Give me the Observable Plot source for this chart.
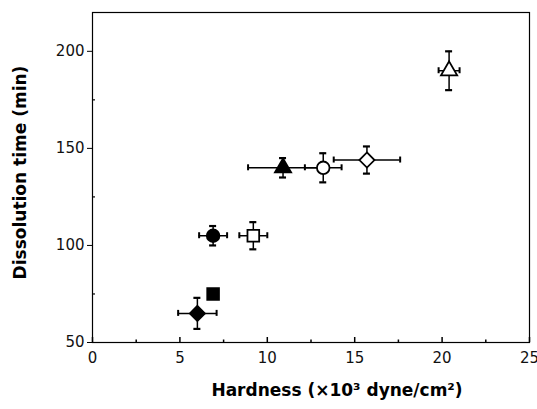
<!DOCTYPE html>
<html><head><meta charset="utf-8">
<script src="https://cdn.jsdelivr.net/npm/d3@7"></script>
<script src="https://cdn.jsdelivr.net/npm/@observablehq/plot@0.6"></script>
<style>body{margin:0;background:#fff}</style>
</head><body><div id="chart"></div>
<script>
// ---- data ----
const symbols     = ["diamond2", "square", "circle", "square", "triangle", "circle", "diamond2", "triangle"];
const filled      = [true, true, true, false, true, false, false, false];
const hardness    = [6.0, 6.9, 6.9, 9.2, 10.9, 13.2, 15.7, 20.4];
const hardnessErr = [1.1, 0.0, 0.8, 0.8, 2.0, 1.05, 1.9, 0.6];
const time        = [65, 75, 105, 105, 140, 140, 144, 190];
const timeErr     = [8, 0, 5, 7, 5, 7.5, 7, 10];
const xMajor = [0, 5, 10, 15, 20, 25];
const xMinor = [2.5, 7.5, 12.5, 17.5, 22.5];
const yMajor = [50, 100, 150, 200];
const yMinor = [75, 125, 175];
const xLabel = "Hardness (\u00d710\u00b3 dyne/cm\u00b2)";
const yLabel = "Dissolution time (min)";

const W = 537, H = 409, mL = 92, mR = 8, mT = 12, mB = 67;
const xDomain = [0, 25], yDomain = [50, 220];
const xPx = (xDomain[1] - xDomain[0]) / (W - mL - mR);
const yPx = (yDomain[1] - yDomain[0]) / (H - mT - mB);

const rows = hardness.map((h, i) => ({
  x: h, y: time[i], xe: hardnessErr[i], ye: timeErr[i],
  sym: symbols[i], fill: filled[i] ? "black" : "white"
}));
const xCaps = rows.filter(d => d.xe > 0).flatMap(d => [{x: d.x - d.xe, y: d.y}, {x: d.x + d.xe, y: d.y}]);
const yCaps = rows.filter(d => d.ye > 0).flatMap(d => [{x: d.x, y: d.y - d.ye}, {x: d.x, y: d.y + d.ye}]);
const radius = {diamond2: 6.8, square: 6.6, circle: 6.3, triangle: 6};
const dots = Object.keys(radius).map(s =>
  Plot.dot(rows.filter(d => d.sym === s), {x: "x", y: "y", symbol: () => s, r: radius[s], fill: "fill", stroke: "black", strokeWidth: 1.8})
);

const font = "DejaVu Sans";
const chart = Plot.plot({
  width: W, height: H,
  marginLeft: mL, marginRight: mR, marginTop: mT, marginBottom: mB,
  style: {fontFamily: font, fontSize: "15px", color: "black", background: "white"},
  x: {domain: xDomain, label: null},
  y: {domain: yDomain, label: null},
  symbol: {type: "identity"},
  color: {type: "identity"},
  marks: [
    Plot.frame({stroke: "black", strokeWidth: 1.2}),
    // inward x ticks
    Plot.ruleX(xMajor, {x: d => d, y1: yDomain[0], y2: yDomain[0] + 5 * yPx, stroke: "black", strokeWidth: 1.5}),
    Plot.ruleX(xMinor, {x: d => d, y1: yDomain[0], y2: yDomain[0] + 2.5 * yPx, stroke: "black", strokeWidth: 1.5}),
    // inward minor y ticks
    Plot.ruleY(yMinor, {y: d => d, x1: xDomain[0], x2: xDomain[0] + 3 * xPx, stroke: "black", strokeWidth: 1.2}),
    Plot.axisX(xMajor, {tickSize: 0, tickPadding: 10, fontSize: 15, fill: "#111"}),
    Plot.axisY(yMajor, {tickSize: 5, tickPadding: 3, fontSize: 15, fill: "#111"}),
    // error bars
    Plot.ruleY(rows.filter(d => d.xe > 0), {y: "y", x1: d => d.x - d.xe, x2: d => d.x + d.xe, stroke: "black", strokeWidth: 1.5}),
    Plot.ruleX(rows.filter(d => d.ye > 0), {x: "x", y1: d => d.y - d.ye, y2: d => d.y + d.ye, stroke: "black", strokeWidth: 1.5}),
    Plot.ruleX(xCaps, {x: "x", y1: d => d.y - 3 * yPx, y2: d => d.y + 3 * yPx, stroke: "black", strokeWidth: 2}),
    Plot.ruleY(yCaps, {y: "y", x1: d => d.x - 3.5 * xPx, x2: d => d.x + 3.5 * xPx, stroke: "black", strokeWidth: 2.2}),
    ...dots,
    Plot.text([yLabel], {text: d => d, frameAnchor: "left", textAnchor: "middle", rotate: -90, dx: -72, dy: -5, fontSize: 17, fontWeight: "bold", fontFamily: font, fill: "black"}),
    Plot.text([xLabel], {text: d => d, frameAnchor: "bottom", textAnchor: "middle", dx: 26, dy: 53, fontSize: 17, fontWeight: "bold", fontFamily: font, fill: "black"})
  ]
});
document.getElementById("chart").append(chart);
</script>
</body></html>
